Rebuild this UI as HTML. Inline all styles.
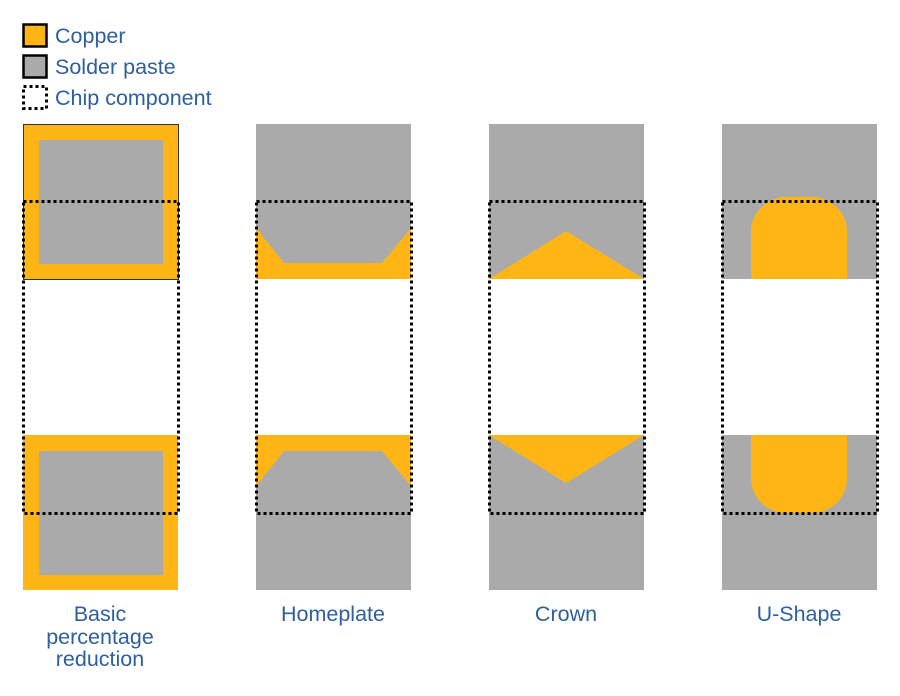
<!DOCTYPE html>
<html><head><meta charset="utf-8"><style>
html,body{margin:0;padding:0;background:#fff;}
svg text{font-family:"Liberation Sans",Arial,sans-serif;fill:#2e5f9e;font-size:21.5px;}
</style></head><body>
<svg width="900" height="691" viewBox="0 0 900 691" xmlns="http://www.w3.org/2000/svg">
<!-- legend -->
<rect x="23.5" y="24.5" width="23" height="22" fill="#ffb515" stroke="#000" stroke-width="2.5"/>
<text x="55" y="43">Copper</text>
<rect x="23.5" y="55.5" width="23" height="22" fill="#aaaaaa" stroke="#000" stroke-width="2.5"/>
<text x="55" y="74">Solder paste</text>
<rect x="23.5" y="86.5" width="23" height="22" fill="none" stroke="#000" stroke-width="3" stroke-dasharray="3,3"/>
<text x="55" y="105">Chip component</text>

<!-- col 1 -->
<rect x="23.5" y="124.5" width="155" height="155" fill="#ffb515" stroke="#333" stroke-width="1"/>
<rect x="39" y="140" width="124" height="124" fill="#aaaaaa"/>
<rect x="23" y="435" width="155" height="155" fill="#ffb515"/>
<rect x="39" y="451" width="124" height="124" fill="#aaaaaa"/>

<!-- col 2 -->
<rect x="256" y="124" width="155" height="155" fill="#aaaaaa"/>
<polygon points="256,228 284,263 382,263 411,228 411,279 256,279" fill="#ffb515"/>
<rect x="256" y="435" width="155" height="155" fill="#ffb515"/>
<polygon points="256,486 284,451 382,451 411,486 411,590 256,590" fill="#aaaaaa"/>

<!-- col 3 -->
<rect x="489" y="124" width="155" height="155" fill="#aaaaaa"/>
<polygon points="489,279 566,231 644,279" fill="#ffb515"/>
<rect x="489" y="435" width="155" height="155" fill="#aaaaaa"/>
<polygon points="489,435 644,435 566,483" fill="#ffb515"/>

<!-- col 4 -->
<rect x="722" y="124" width="155" height="155" fill="#aaaaaa"/>
<path d="M751,279 L751,232 A35,35 0 0 1 786,197 L812,197 A35,35 0 0 1 847,232 L847,279 Z" fill="#ffb515"/>
<rect x="722" y="435" width="155" height="155" fill="#aaaaaa"/>
<path d="M751,435 L751,478 A35,35 0 0 0 786,513 L812,513 A35,35 0 0 0 847,478 L847,435 Z" fill="#ffb515"/>

<!-- chip outlines -->
<g fill="none" stroke="#000" stroke-width="3" stroke-dasharray="3,3">
<rect x="23.5" y="201.5" width="155" height="312"/>
<rect x="256.5" y="201.5" width="155" height="312"/>
<rect x="489.5" y="201.5" width="155" height="312"/>
<rect x="722.5" y="201.5" width="155" height="312"/>
</g>

<g text-anchor="middle">
<text x="100" y="621">Basic</text>
<text x="100" y="644">percentage</text>
<text x="100" y="666">reduction</text>
<text x="333" y="621">Homeplate</text>
<text x="566" y="621">Crown</text>
<text x="799" y="621">U-Shape</text>
</g>
</svg>
</body></html>
